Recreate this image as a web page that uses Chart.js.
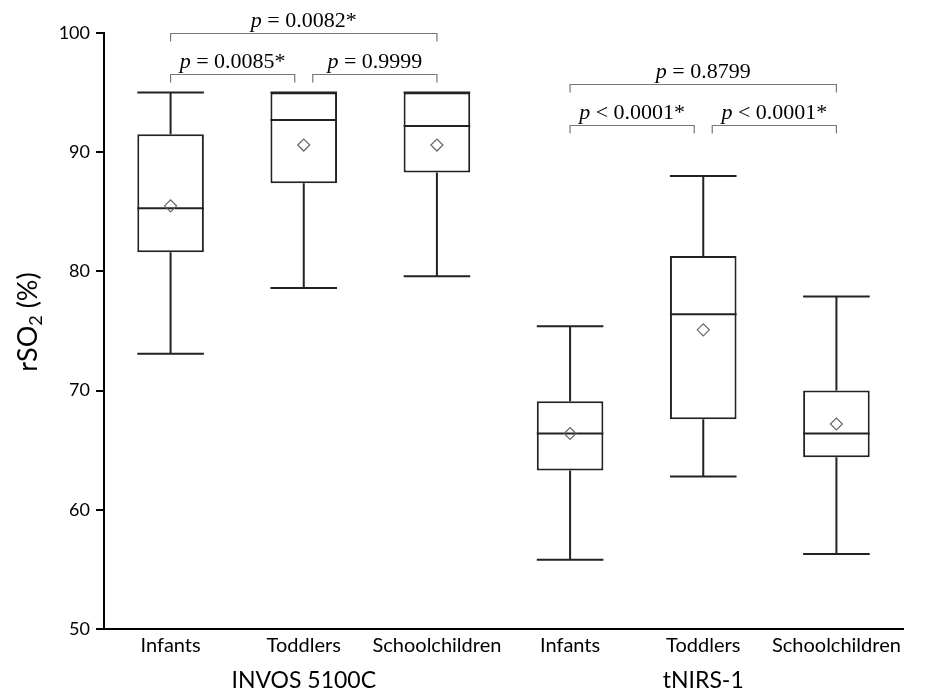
<!DOCTYPE html>
<html>
<head>
<meta charset="utf-8">
<script src="https://cdn.jsdelivr.net/npm/chart.js@4.4.1/dist/chart.umd.min.js"></script>
<style>
  html, body { margin: 0; padding: 0; background: #fff; }
  #wrap { width: 925px; height: 692px; }
</style>
</head>
<body>
<div id="wrap"><canvas id="boxChart"></canvas></div>
<script>
// box plot values (rSO2, %)
const groups = ['Infants', 'Toddlers', 'Schoolchildren', 'Infants', 'Toddlers', 'Schoolchildren'];
const devices = ['INVOS 5100C', 'tNIRS-1'];
const whiskerLow  = [73.1, 78.6, 79.6, 55.8, 62.8, 56.3];
const q1          = [81.6, 87.4, 88.3, 63.3, 67.6, 64.4];
const median      = [85.3, 92.7, 92.2, 66.4, 76.4, 66.4];
const q3          = [91.5, 95.0, 95.0, 69.1, 81.3, 70.0];
const whiskerHigh = [95.0, 95.0, 95.0, 75.4, 88.0, 77.9];
const mean        = [85.5, 90.6, 90.6, 66.4, 75.1, 67.2];

// pairwise comparisons: from / to category, bracket level, p text
const compFrom  = [0, 0, 1, 3, 3, 4];
const compTo    = [2, 1, 2, 5, 4, 5];
const compLevel = [100, 96.6, 96.6, 95.7, 92.3, 92.3];
const compP     = ['= 0.0082*', '= 0.0085*', '= 0.9999', '= 0.8799', '< 0.0001*', '< 0.0001*'];

const sansFont = 'Lato, "Liberation Sans", sans-serif';
const serifFont = '"Liberation Serif", "DejaVu Serif", serif';

const boxParts = {
    id: 'boxParts',
    afterDatasetDraw(chart, args) {
        if (args.index !== 0) return;
        const { ctx, scales: { y } } = chart;
        const meta = chart.getDatasetMeta(0);
        ctx.save();
        ctx.strokeStyle = '#222';
        ctx.lineWidth = 2;
        meta.data.forEach((bar, i) => {
            const cx = bar.x;
            const half = bar.width / 2;
            const yHi = y.getPixelForValue(whiskerHigh[i]);
            const yLo = y.getPixelForValue(whiskerLow[i]);
            const yQ1 = y.getPixelForValue(q1[i]);
            const yQ3 = y.getPixelForValue(q3[i]);
            const yMed = y.getPixelForValue(median[i]);
            ctx.beginPath();
            // whiskers
            ctx.moveTo(cx, yQ3); ctx.lineTo(cx, yHi);
            ctx.moveTo(cx - half, yHi); ctx.lineTo(cx + half, yHi);
            ctx.moveTo(cx, yQ1); ctx.lineTo(cx, yLo);
            ctx.moveTo(cx - half, yLo); ctx.lineTo(cx + half, yLo);
            // median
            ctx.moveTo(cx - half, yMed); ctx.lineTo(cx + half, yMed);
            ctx.stroke();
        });
        ctx.restore();
    }
};

const extras = {
    id: 'extras',
    afterDraw(chart) {
        const { ctx, scales: { x, y } } = chart;
        ctx.save();

        // significance brackets
        ctx.strokeStyle = '#777';
        ctx.lineWidth = 1.2;
        ctx.fillStyle = '#000';
        ctx.textBaseline = 'alphabetic';
        compFrom.forEach((f, k) => {
            const t = compTo[k];
            let x1 = x.getPixelForValue(f);
            let x2 = x.getPixelForValue(t);
            if (t - f === 1) {
                if (f % 3 === 1) x1 += 9;
                if (t % 3 === 1) x2 -= 9;
            }
            const yy = Math.round(y.getPixelForValue(compLevel[k])) + 0.5;
            ctx.beginPath();
            ctx.moveTo(x1, yy + 8); ctx.lineTo(x1, yy);
            ctx.lineTo(x2, yy); ctx.lineTo(x2, yy + 8);
            ctx.stroke();

            ctx.font = 'italic 22px ' + serifFont;
            const pW = ctx.measureText('p').width;
            ctx.font = '22px ' + serifFont;
            const rest = ' ' + compP[k];
            const rW = ctx.measureText(rest).width;
            const start = (x1 + x2) / 2 - (pW + rW) / 2;
            const base = yy - 7;
            ctx.font = 'italic 22px ' + serifFont;
            ctx.textAlign = 'left';
            ctx.fillText('p', start, base);
            ctx.font = '22px ' + serifFont;
            ctx.fillText(rest, start + pW, base);
        });

        // device group labels
        ctx.font = '23px ' + sansFont;
        ctx.textAlign = 'center';
        ctx.textBaseline = 'middle';
        devices.forEach((d, g) => {
            const cx = (x.getPixelForValue(g * 3) + x.getPixelForValue(g * 3 + 2)) / 2;
            ctx.fillText(d, cx, 681);
        });

        // y axis title with subscript
        ctx.translate(28, 322);
        ctx.rotate(-Math.PI / 2);
        ctx.textBaseline = 'middle';
        ctx.textAlign = 'left';
        const big = '27px ' + sansFont;
        const small = '18px ' + sansFont;
        ctx.font = big;
        const w1 = ctx.measureText('rSO').width;
        const w3 = ctx.measureText(' (%)').width;
        ctx.font = small;
        const w2 = ctx.measureText('2').width;
        let px = -(w1 + w2 + w3) / 2;
        ctx.font = big;
        ctx.fillText('rSO', px, 0);
        px += w1;
        ctx.font = small;
        ctx.fillText('2', px, 8);
        px += w2;
        ctx.font = big;
        ctx.fillText(' (%)', px, 0);

        ctx.restore();
    }
};

new Chart(document.getElementById('boxChart'), {
    type: 'bar',
    data: {
        labels: groups,
        datasets: [
            {
                label: 'IQR',
                data: q1.map((v, i) => [v, q3[i]]),
                backgroundColor: '#fff',
                borderColor: '#222',
                borderWidth: 2,
                borderSkipped: false,
                barPercentage: 0.5,
                categoryPercentage: 1
            },
            {
                type: 'line',
                label: 'Mean',
                data: mean,
                order: -1,
                showLine: false,
                pointStyle: 'rectRot',
                pointRadius: 6,
                pointBackgroundColor: 'rgba(0,0,0,0)',
                pointBorderColor: '#666',
                pointBorderWidth: 1.2
            }
        ]
    },
    options: {
        responsive: true,
        maintainAspectRatio: false,
        animation: false,
        layout: { padding: { top: 33, right: 22, left: 0, bottom: 0 } },
        plugins: {
            legend: { display: false },
            tooltip: { enabled: false }
        },
        scales: {
            x: {
                grid: { display: false },
                border: { display: true, color: '#000', width: 2 },
                ticks: {
                    color: '#000',
                    font: { family: sansFont, size: 20 },
                    padding: -3,
                    maxRotation: 0,
                    minRotation: 0,
                    autoSkip: false
                },
                afterFit: scale => { scale.height = 63; }
            },
            y: {
                min: 50,
                max: 100,
                grid: { display: true, drawOnChartArea: false, drawTicks: true, tickLength: 8, lineWidth: 2, color: '#000' },
                border: { display: true, color: '#000', width: 2 },
                ticks: { stepSize: 10, color: '#000', font: { family: sansFont, size: 18 }, padding: 6 },
                afterFit: scale => { scale.width = 104; }
            }
        }
    },
    plugins: [boxParts, extras]
});
</script>
</body>
</html>
